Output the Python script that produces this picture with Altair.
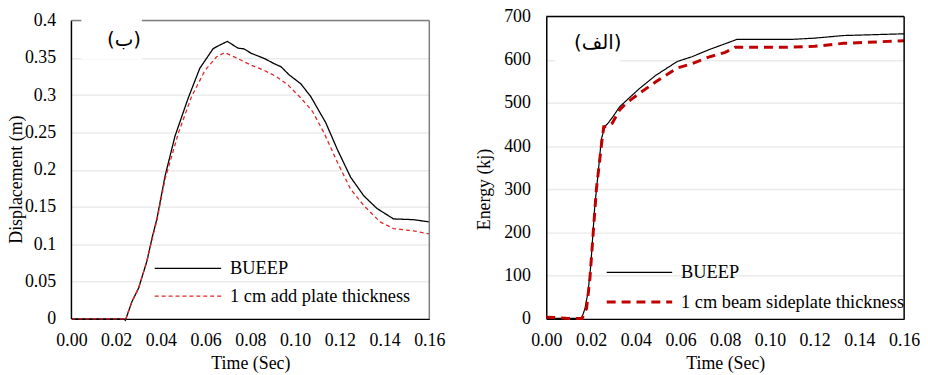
import altair as alt
import pandas as pd

# ---------------- data: displacement panel (ب) ----------------
disp_t_bueep = [0.0, 0.010, 0.020, 0.0235, 0.0241, 0.0271, 0.030, 0.0337, 0.036, 0.0382, 0.0419,
                0.0463, 0.0522, 0.0574, 0.0633, 0.0656, 0.0697, 0.0744, 0.0771, 0.0804,
                0.0863, 0.0907, 0.0937, 0.0974, 0.1026, 0.107, 0.1137, 0.1189, 0.1248,
                0.1307, 0.1366, 0.144, 0.1529, 0.16]
disp_v_bueep = [0.0, 0.0, 0.0, 0.0, -0.002, 0.0235, 0.041, 0.077, 0.108, 0.134, 0.192,
                0.245, 0.296, 0.336, 0.362, 0.366, 0.372, 0.363, 0.362, 0.356,
                0.349, 0.342, 0.338, 0.327, 0.315, 0.298, 0.263, 0.227, 0.190,
                0.165, 0.148, 0.134, 0.133, 0.130]

disp_t_plate = [0.0, 0.010, 0.020, 0.0235, 0.0241, 0.0271, 0.030, 0.0337, 0.036, 0.0382, 0.0419,
                0.0478, 0.0537, 0.0597, 0.0648, 0.0685, 0.0744, 0.0804, 0.0863, 0.0915,
                0.0967, 0.1026, 0.1078, 0.113, 0.1189, 0.1248, 0.1307, 0.138, 0.144,
                0.1529, 0.16]
disp_v_plate = [0.0, 0.0, 0.0, 0.0, -0.002, 0.0235, 0.041, 0.077, 0.106, 0.132, 0.188,
                0.249, 0.298, 0.333, 0.351, 0.357, 0.349, 0.340, 0.333, 0.325,
                0.314, 0.296, 0.278, 0.249, 0.210, 0.174, 0.152, 0.130, 0.121,
                0.118, 0.114]

# ---------------- data: energy panel (الف) ----------------
en_t_bueep = [0.0, 0.008, 0.0158, 0.0173, 0.0187, 0.0199, 0.0217, 0.0232, 0.0246, 0.0261,
              0.0276, 0.0298, 0.0328, 0.0357, 0.0416, 0.049, 0.0586, 0.0652, 0.0726,
              0.080, 0.0852, 0.1095, 0.120, 0.133, 0.16]
en_v_bueep = [1, 1, 1, 24, 63, 124, 262, 338, 415, 445,
              453, 468, 491, 505, 533, 564, 596, 607, 623,
              637, 647, 647, 650, 656, 660]

en_t_side = [0.0, 0.005, 0.010, 0.0160, 0.018, 0.0195, 0.021, 0.0224, 0.0246, 0.0257,
             0.0276, 0.0295, 0.0328, 0.0357, 0.0416, 0.049, 0.0586, 0.0652, 0.0726,
             0.080, 0.0845, 0.1095, 0.120, 0.133, 0.16]
en_v_side = [4, 3, 1, 1, 24, 93, 200, 300, 400, 445,
             445, 453, 484, 499, 522, 549, 581, 591, 606,
             617, 629, 629, 631, 638, 644]

x_ticks = [0.0, 0.02, 0.04, 0.06, 0.08, 0.10, 0.12, 0.14, 0.16]
disp_ticks = [0, 0.05, 0.1, 0.15, 0.2, 0.25, 0.3, 0.35, 0.4]
en_ticks = [0, 100, 200, 300, 400, 500, 600, 700]

series_names = ["BUEEP", "1 cm add plate thickness", "1 cm beam sideplate thickness"]
panel_labels = ["(ب)", "(الف)"]

SERIF = "Liberation Serif"
W = 361
H = 305
LEFT_TOP = 4  # the displacement panel's frame starts a little lower than the energy panel's

one = alt.Data(values=[{}])

axis_font = dict(labelFont=SERIF, labelFontSize=18, labelColor="black",
                 titleFont=SERIF, titleFontSize=18, titleColor="black",
                 titleFontWeight="normal", labelOverlap=False, labelFlush=False,
                 ticks=False)


def rule(color, width, x, y, x2=None, y2=None):
    enc = dict(x=alt.value(x), y=alt.value(y))
    if x2 is not None:
        enc["x2"] = alt.value(x2)
    if y2 is not None:
        enc["y2"] = alt.value(y2)
    return alt.Chart(one).mark_rule(color=color, strokeWidth=width).encode(**enc)


def legend(x1, x2, xt, y1, y2, name2, color2, width2, dash2):
    l1 = alt.Chart(one).mark_rule(color="black", strokeWidth=1.2).encode(
        x=alt.value(x1), x2=alt.value(x2), y=alt.value(y1))
    t1 = alt.Chart(one).mark_text(align="left", baseline="middle", font=SERIF,
                                  fontSize=18.5, color="black").encode(
        x=alt.value(xt), y=alt.value(y1), text=alt.value(series_names[0]))
    l2 = alt.Chart(one).mark_rule(color=color2, strokeWidth=width2, strokeDash=dash2).encode(
        x=alt.value(x1), x2=alt.value(x2), y=alt.value(y2))
    t2 = alt.Chart(one).mark_text(align="left", baseline="middle", font=SERIF,
                                  fontSize=18.5, color="black").encode(
        x=alt.value(xt), y=alt.value(y2), text=alt.value(name2))
    return [l1, t1, l2, t2]


def label_box(x1, x2, y1, y2, xc, yc, text):
    box = alt.Chart(one).mark_rect(color="white").encode(
        x=alt.value(x1), x2=alt.value(x2), y=alt.value(y1), y2=alt.value(y2))
    txt = alt.Chart(one).mark_text(align="center", baseline="middle", font="DejaVu Sans",
                                   fontSize=20, color="black").encode(
        x=alt.value(xc), y=alt.value(yc), text=alt.value(text))
    return [box, txt]


def x_axis():
    return alt.Axis(values=x_ticks, format=".2f", title="Time (Sec)", grid=False,
                    labelPadding=13, titlePadding=5, domainColor="black", domainWidth=1.5,
                    **axis_font)


x_scale = alt.Scale(domain=[0, 0.16], nice=False, zero=False)


def series_df(t1, v1, name1, t2, v2, name2):
    return pd.concat([
        pd.DataFrame({"t": t1, "v": v1, "s": name1}),
        pd.DataFrame({"t": t2, "v": v2, "s": name2}),
    ], ignore_index=True)


# ---------------- left panel ----------------
df_left = series_df(disp_t_bueep, disp_v_bueep, series_names[0],
                    disp_t_plate, disp_v_plate, series_names[1])

yl_axis = alt.Axis(values=disp_ticks, format="~g", title="Displacement (m)", grid=True,
                   gridColor="#ebebeb", gridWidth=1.5, labelPadding=16, domain=False,
                   titleX=-46, titleY=164, **axis_font)

yl_scale = alt.Scale(domain=[0, 0.4], range=[H, LEFT_TOP], nice=False, zero=False)

lines_left = alt.Chart(df_left).mark_line().encode(
    x=alt.X("t:Q", axis=x_axis(), scale=x_scale),
    y=alt.Y("v:Q", axis=yl_axis, scale=yl_scale),
    color=alt.Color("s:N", legend=None,
                    scale=alt.Scale(domain=series_names[:2], range=["black", "#e0282a"])),
    strokeDash=alt.StrokeDash("s:N", legend=None,
                              scale=alt.Scale(domain=series_names[:2], range=[[1, 0], [4, 3]])),
    strokeWidth=alt.value(1.3),
)

left = alt.layer(
    lines_left,
    rule("black", 1.5, 0, LEFT_TOP, y2=H),
    rule("#7f7f7f", 1.5, 0, LEFT_TOP, x2=W),
    rule("#7f7f7f", 1.5, W, LEFT_TOP, y2=H),
    *label_box(10, 71, 0, LEFT_TOP + 39, 53, LEFT_TOP + 20, panel_labels[0]),
    *legend(84, 151, 160, LEFT_TOP + 250, LEFT_TOP + 278, series_names[1], "#e0282a", 1.3, [4, 3]),
).properties(width=W, height=H)

# ---------------- right panel ----------------
df_right = series_df(en_t_bueep, en_v_bueep, series_names[0],
                     en_t_side, en_v_side, series_names[2])

yr_axis = alt.Axis(values=en_ticks, format="d", title="Energy (kj)", grid=True,
                   gridColor="#ebebeb", gridWidth=1.5, labelPadding=16,
                   domainColor="black", domainWidth=1.5,
                   titleX=-53, titleY=174, **axis_font)

rdom = [series_names[0], series_names[2]]
lines_right = alt.Chart(df_right).mark_line().encode(
    x=alt.X("t:Q", axis=x_axis(), scale=x_scale),
    y=alt.Y("v:Q", axis=yr_axis, scale=alt.Scale(domain=[0, 700], nice=False)),
    color=alt.Color("s:N", legend=None,
                    scale=alt.Scale(domain=rdom, range=["black", "#c00000"])),
    strokeDash=alt.StrokeDash("s:N", legend=None,
                              scale=alt.Scale(domain=rdom, range=[[1, 0], [9, 6]])),
    strokeWidth=alt.StrokeWidth("s:N", legend=None,
                                scale=alt.Scale(domain=rdom, range=[1.2, 3])),
)

right = alt.layer(
    lines_right,
    rule("black", 1.5, 0, 0, x2=W),
    rule("black", 1.5, W, 0, y2=H),
    *label_box(9, 74, 5, 48, 52, 27, panel_labels[1]),
    *legend(61, 127, 136, 258, 288, series_names[2], "#c00000", 3, [9, 6]),
).properties(width=W, height=H)

chart = alt.hconcat(left, right, spacing=31).resolve_scale(
    x="independent", y="independent", color="independent",
    strokeDash="independent", strokeWidth="independent"
).properties(
    padding={"left": 0, "top": -2, "right": 0, "bottom": 0}
).configure_view(strokeWidth=0)

chart.save("out.html", embed_options={"renderer": "svg", "actions": False})
